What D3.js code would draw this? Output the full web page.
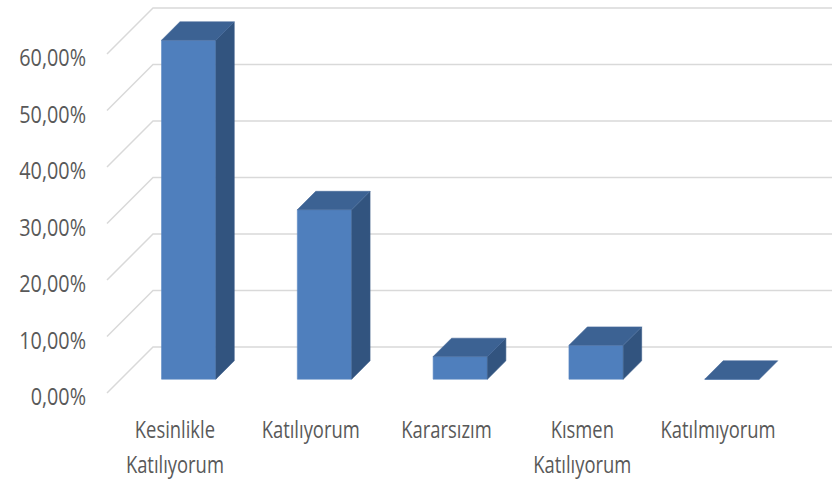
<!DOCTYPE html>
<html>
<head>
<meta charset="utf-8">
<script src="https://cdn.jsdelivr.net/npm/d3@7"></script>
<style>
  body { margin: 0; background: #ffffff; }
  text { font-family: "Open Sans", "Noto Sans", sans-serif; fill: #595959; }
</style>
</head>
<body>
<div class="chart"></div>
<script>
var categories = ["Kesinlikle Katılıyorum", "Katılıyorum", "Kararsızım", "Kısmen Katılıyorum", "Katılmıyorum"];
var categoryLines = [["Kesinlikle", "Katılıyorum"], ["Katılıyorum"], ["Kararsızım"], ["Kısmen", "Katılıyorum"], ["Katılmıyorum"]];
var values = [0.60, 0.30, 0.04, 0.06, 0.00];
var yTicks = [0, 0.1, 0.2, 0.3, 0.4, 0.5, 0.6];

var width = 836, height = 481;

// front plane of the 3d box and its depth offset
var plot = {left: 107, right: 786, bottom: 393, top: 54};
var depth = {dx: 46, dy: -46};
var barDepth = {from: 0.3, to: 0.7};

var fmt = d3.formatLocale({decimal: ",", thousands: ".", grouping: [3], currency: ["", ""]}).format(".2%");

var xScale = d3.scaleBand()
    .domain(categories)
    .range([plot.left, plot.right])
    .paddingInner(0.6)
    .paddingOuter(0.3);

var yScale = d3.scaleLinear()
    .domain([0, 0.6])
    .range([plot.bottom, plot.top]);

var svg = d3.select("div.chart").append("svg")
    .attr("width", width)
    .attr("height", height);

// gridlines: left wall diagonal + back wall horizontal
var grid = svg.append("g").attr("class", "grid");
yTicks.forEach(function(t) {
    var y = yScale(t);
    grid.append("path")
        .attr("d", "M" + plot.left + "," + y +
                   "L" + (plot.left + depth.dx) + "," + (y + depth.dy) +
                   "L" + (plot.right + depth.dx) + "," + (y + depth.dy))
        .attr("fill", "none")
        .attr("stroke", "#d9d9d9")
        .attr("stroke-width", 1.5);
});

// y labels
var sx = 0.8;
svg.append("g").selectAll("text")
    .data(yTicks)
    .enter().append("text")
    .attr("transform", function(d) { return "translate(86," + (yScale(d) + 3) + ") scale(0.86,1)"; })
    .attr("text-anchor", "end")
    .attr("dominant-baseline", "central")
    .style("font-size", "23px")
    .text(function(d) { return fmt(d); });

// bars
function pt(x, y) { return x + "," + y; }

var bars = svg.append("g").selectAll("g.bar")
    .data(categories)
    .enter().append("g")
    .attr("class", "bar");

bars.each(function(c, i) {
    var g = d3.select(this);
    var x0 = xScale(c) + depth.dx * barDepth.from;
    var x1 = x0 + xScale.bandwidth();
    var off = depth.dy * barDepth.from;
    var yb = yScale(0) + off;
    var yt = yScale(values[i]) + off;
    var ddx = depth.dx * (barDepth.to - barDepth.from);
    var ddy = depth.dy * (barDepth.to - barDepth.from);

    g.append("path")
        .attr("d", "M" + pt(x0, yb) + "L" + pt(x1, yb) + "L" + pt(x1, yt) + "L" + pt(x0, yt) + "Z")
        .attr("fill", "#4f7fbd")
        .attr("stroke", "#5a88c2")
        .attr("stroke-width", 0.6);
    g.append("path")
        .attr("d", "M" + pt(x1, yb) + "L" + pt(x1 + ddx, yb + ddy) + "L" + pt(x1 + ddx, yt + ddy) + "L" + pt(x1, yt) + "Z")
        .attr("fill", "#32547f")
        .attr("stroke", "#3a5c88")
        .attr("stroke-width", 0.6);
    g.append("path")
        .attr("d", "M" + pt(x0, yt) + "L" + pt(x1, yt) + "L" + pt(x1 + ddx, yt + ddy) + "L" + pt(x0 + ddx, yt + ddy) + "Z")
        .attr("fill", "#3c6293")
        .attr("stroke", "#46699a")
        .attr("stroke-width", 0.6);
});

// category labels
var labels = svg.append("g").selectAll("text")
    .data(categories)
    .enter().append("text")
    .attr("transform", function(c) { return "translate(" + (xScale(c) + xScale.bandwidth() / 2) + ",438) scale(" + sx + ",1)"; })
    .attr("text-anchor", "middle")
    .style("font-size", "23px");

labels.each(function(c, i) {
    var t = d3.select(this);
    categoryLines[i].forEach(function(line, j) {
        t.append("tspan")
            .attr("x", 0)
            .attr("y", j * 35)
            .text(line);
    });
});
</script>
</body>
</html>
